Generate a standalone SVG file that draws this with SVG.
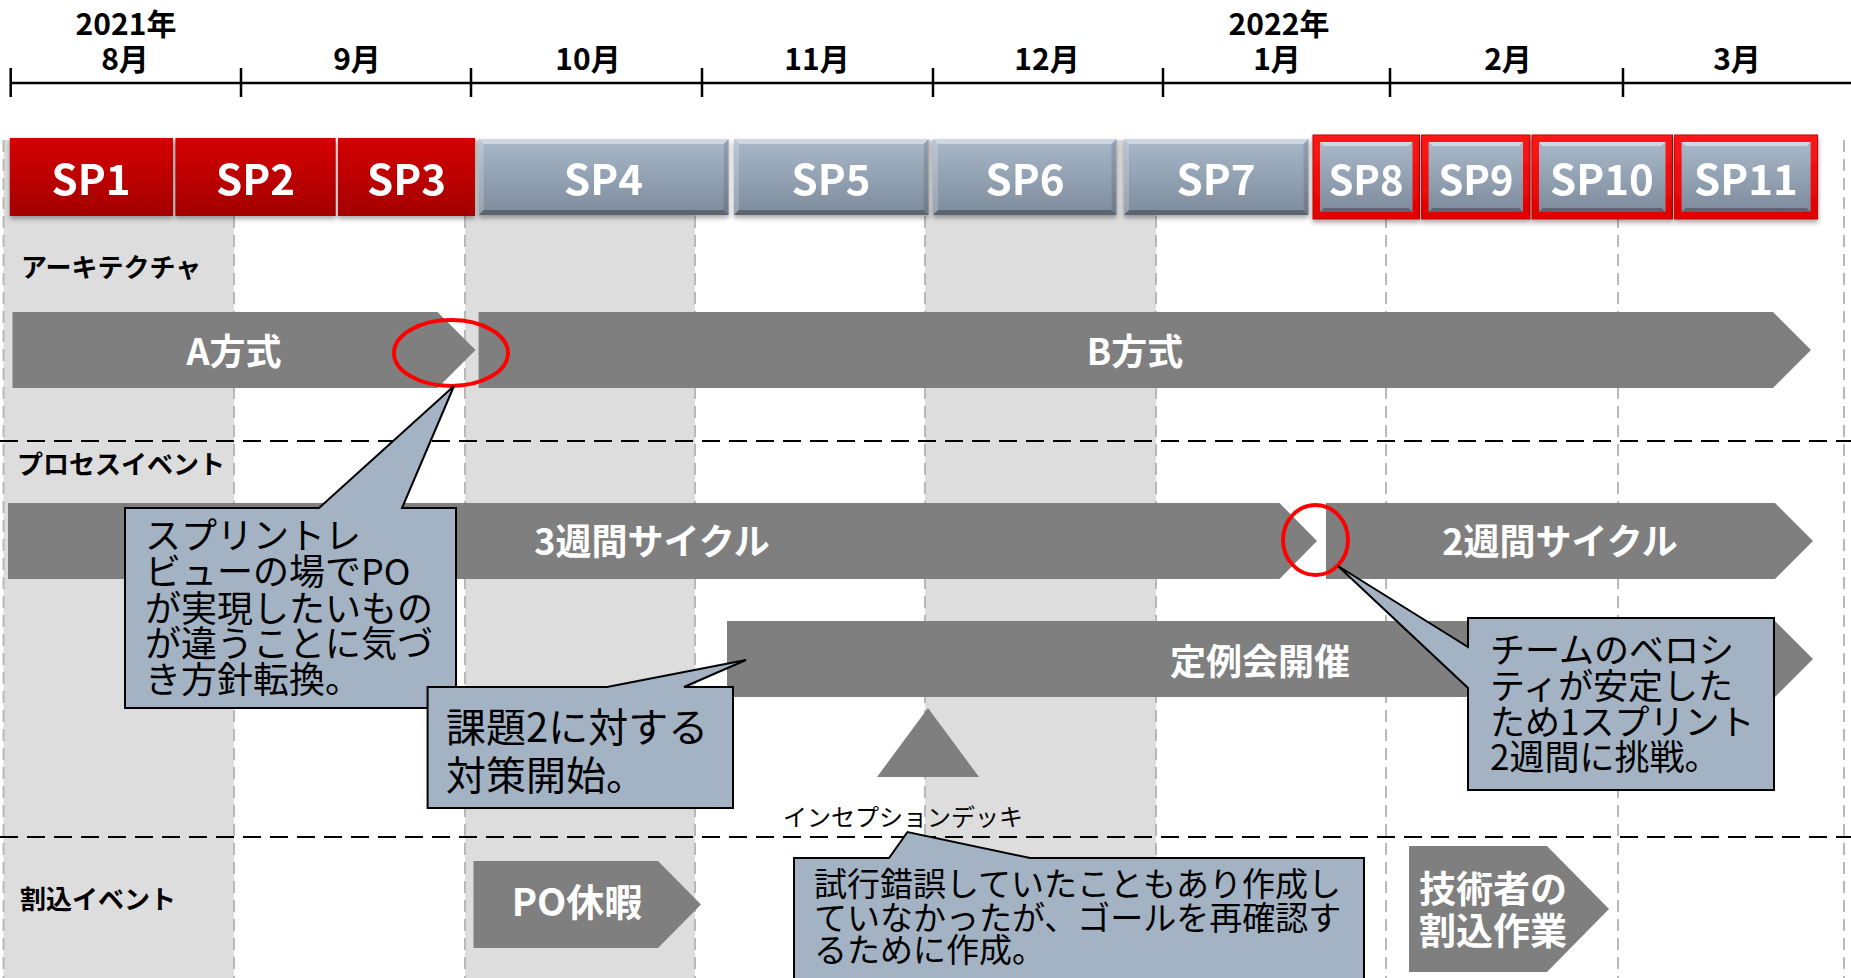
<svg xmlns="http://www.w3.org/2000/svg" width="1851" height="978" viewBox="0 0 1851 978">
<defs>
<linearGradient id="redG" x1="0" y1="0" x2="0" y2="1"><stop offset="0" stop-color="#d60000"/><stop offset="1" stop-color="#a30000"/></linearGradient>
<linearGradient id="blueG" x1="0" y1="0" x2="0" y2="1"><stop offset="0" stop-color="#a9b9ca"/><stop offset="1" stop-color="#7d8b9b"/></linearGradient>
<linearGradient id="brightRed" x1="0" y1="0" x2="0" y2="1"><stop offset="0" stop-color="#ff1a1a"/><stop offset="1" stop-color="#e00000"/></linearGradient>
<filter id="sh" x="-10%" y="-10%" width="120%" height="140%"><feDropShadow dx="0" dy="3" stdDeviation="2.5" flood-color="#000" flood-opacity="0.35"/></filter>
</defs>
<style>
text{font-family:"Noto Sans CJK JP","Noto Sans",sans-serif}
.hdr{font-size:30px;font-weight:bold;fill:#000;text-anchor:middle}
.sp{font-size:42px;font-weight:bold;fill:#fff;text-anchor:middle}
.sec{font-size:26px;font-weight:bold;fill:#000}
.arrow{fill:#7f7f7f}
.alab{font-size:36px;font-weight:bold;fill:#fff;text-anchor:middle}
.call{fill:#a3b3c4;stroke:#000;stroke-width:2;stroke-linejoin:miter}
.ct{fill:#000}
.vdash{stroke:#b8b8b8;stroke-width:2;stroke-dasharray:12 7}
.hdash{stroke:#000;stroke-width:2;stroke-dasharray:18 9}
.ring{fill:none;stroke:#f00;stroke-width:4}
.bt{fill:#fff;opacity:.45}
.bl{fill:#fff;opacity:.2}
.br{fill:#000;opacity:.12}
.bb{fill:#000;opacity:.28}
</style>

<g id="grid">
<rect x="3.5" y="140" width="230.5" height="838" fill="#dddddd"/>
<rect x="465" y="140" width="230" height="838" fill="#dddddd"/>
<rect x="925" y="140" width="231" height="838" fill="#dddddd"/>
<line class="vdash" x1="3.5" y1="140" x2="3.5" y2="978"/>
<line class="vdash" x1="234" y1="140" x2="234" y2="978"/>
<line class="vdash" x1="465" y1="140" x2="465" y2="978"/>
<line class="vdash" x1="695" y1="140" x2="695" y2="978"/>
<line class="vdash" x1="925" y1="140" x2="925" y2="978"/>
<line class="vdash" x1="1156" y1="140" x2="1156" y2="978"/>
<line class="vdash" x1="1386" y1="140" x2="1386" y2="978"/>
<line class="vdash" x1="1618" y1="140" x2="1618" y2="978"/>
<line class="vdash" x1="1844" y1="140" x2="1844" y2="978"/>
<line class="hdash" x1="0" y1="441" x2="1851" y2="441"/>
<line class="hdash" x1="0" y1="837" x2="1851" y2="837"/>
</g>

<g id="axis">
<line x1="10" y1="83" x2="1851" y2="83" stroke="#000" stroke-width="2.5"/>
<g stroke="#000" stroke-width="2.5">
<line x1="10.7" y1="68" x2="10.7" y2="97"/>
<line x1="241" y1="68" x2="241" y2="97"/>
<line x1="471" y1="68" x2="471" y2="97"/>
<line x1="702" y1="68" x2="702" y2="97"/>
<line x1="933" y1="68" x2="933" y2="97"/>
<line x1="1163" y1="68" x2="1163" y2="97"/>
<line x1="1390" y1="68" x2="1390" y2="97"/>
<line x1="1623" y1="68" x2="1623" y2="97"/>
</g>
<text class="hdr" x="126" y="35">2021年</text>
<text class="hdr" x="1279" y="35">2022年</text>
<text class="hdr" x="125" y="70">8月</text>
<text class="hdr" x="357" y="70">9月</text>
<text class="hdr" x="588" y="70">10月</text>
<text class="hdr" x="817" y="70">11月</text>
<text class="hdr" x="1047" y="70">12月</text>
<text class="hdr" x="1277" y="70">1月</text>
<text class="hdr" x="1508" y="70">2月</text>
<text class="hdr" x="1737" y="70">3月</text>
</g>

<g id="sprints">
<g id="sp1" filter="url(#sh)"><rect x="9.8" y="138" width="163.2" height="78" fill="url(#redG)"/><text class="sp" x="91" y="195">SP1</text></g>
<g id="sp2" filter="url(#sh)"><rect x="175.4" y="138" width="160.3" height="78" fill="url(#redG)"/><text class="sp" x="255.5" y="195">SP2</text></g>
<g id="sp3" filter="url(#sh)"><rect x="338" y="138" width="137" height="78" fill="url(#redG)"/><text class="sp" x="406.5" y="195">SP3</text></g>

<g id="sp4" filter="url(#sh)"><rect x="478.6" y="139" width="250" height="76" fill="url(#blueG)"/>
<polygon class="bt" points="478.6,139 728.6,139 723.6,144 483.6,144"/><polygon class="bl" points="478.6,139 483.6,144 483.6,210 478.6,215"/><polygon class="br" points="728.6,139 728.6,215 723.6,210 723.6,144"/><polygon class="bb" points="478.6,215 483.6,210 723.6,210 728.6,215"/>
<text class="sp" x="603.6" y="195">SP4</text></g>
<g id="sp5" filter="url(#sh)"><rect x="734" y="139" width="194.6" height="76" fill="url(#blueG)"/>
<polygon class="bt" points="734,139 928.6,139 923.6,144 739,144"/><polygon class="bl" points="734,139 739,144 739,210 734,215"/><polygon class="br" points="928.6,139 928.6,215 923.6,210 923.6,144"/><polygon class="bb" points="734,215 739,210 923.6,210 928.6,215"/>
<text class="sp" x="831" y="195">SP5</text></g>
<g id="sp6" filter="url(#sh)"><rect x="933" y="139" width="183.5" height="76" fill="url(#blueG)"/>
<polygon class="bt" points="933,139 1116.5,139 1111.5,144 938,144"/><polygon class="bl" points="933,139 938,144 938,210 933,215"/><polygon class="br" points="1116.5,139 1116.5,215 1111.5,210 1111.5,144"/><polygon class="bb" points="933,215 938,210 1111.5,210 1116.5,215"/>
<text class="sp" x="1025" y="195">SP6</text></g>
<g id="sp7" filter="url(#sh)"><rect x="1124" y="139" width="184.5" height="76" fill="url(#blueG)"/>
<polygon class="bt" points="1124,139 1308.5,139 1303.5,144 1129,144"/><polygon class="bl" points="1124,139 1129,144 1129,210 1124,215"/><polygon class="br" points="1308.5,139 1308.5,215 1303.5,210 1303.5,144"/><polygon class="bb" points="1124,215 1129,210 1303.5,210 1308.5,215"/>
<text class="sp" x="1216" y="195">SP7</text></g>

<g id="sp8" filter="url(#sh)"><rect x="1313" y="135" width="106.5" height="84" fill="url(#brightRed)" stroke="#c00000" stroke-width="1"/>
<rect x="1320" y="142" width="92.5" height="70" fill="url(#blueG)"/>
<polygon class="bt" points="1320,142 1412.5,142 1408.5,146 1324,146"/><polygon class="bb" points="1320,212 1324,208 1408.5,208 1412.5,212"/>
<text class="sp" x="1366" y="195" style="font-size:40px">SP8</text></g>
<g id="sp9" filter="url(#sh)"><rect x="1421.6" y="135" width="108.4" height="84" fill="url(#brightRed)" stroke="#c00000" stroke-width="1"/>
<rect x="1428.6" y="142" width="94.4" height="70" fill="url(#blueG)"/>
<polygon class="bt" points="1428.6,142 1523,142 1519,146 1432.6,146"/><polygon class="bb" points="1428.6,212 1432.6,208 1519,208 1523,212"/>
<text class="sp" x="1476" y="195" style="font-size:40px">SP9</text></g>
<g id="sp10" filter="url(#sh)"><rect x="1532" y="135" width="140.5" height="84" fill="url(#brightRed)" stroke="#c00000" stroke-width="1"/>
<rect x="1539" y="142" width="126.5" height="70" fill="url(#blueG)"/>
<polygon class="bt" points="1539,142 1665.5,142 1661.5,146 1543,146"/><polygon class="bb" points="1539,212 1543,208 1661.5,208 1665.5,212"/>
<text class="sp" x="1602" y="195">SP10</text></g>
<g id="sp11" filter="url(#sh)"><rect x="1674.6" y="135" width="143" height="84" fill="url(#brightRed)" stroke="#c00000" stroke-width="1"/>
<rect x="1681.6" y="142" width="129" height="70" fill="url(#blueG)"/>
<polygon class="bt" points="1681.6,142 1810.6,142 1806.6,146 1685.6,146"/><polygon class="bb" points="1681.6,212 1685.6,208 1806.6,208 1810.6,212"/>
<text class="sp" x="1746" y="195">SP11</text></g>
</g>

<g id="sections">
<text class="sec" x="21" y="277">アーキテクチャ</text>
<text class="sec" x="17" y="474">プロセスイベント</text>
<text class="sec" x="20" y="909">割込イベント</text>
</g>

<g id="arrows">
<g id="a-houshiki"><polygon class="arrow" points="12.5,312 437.5,312 475.5,350 437.5,388 12.5,388"/><text class="alab" x="234" y="365">A方式</text></g>
<g id="b-houshiki"><polygon class="arrow" points="478.6,312 1773,312 1811,350 1773,388 478.6,388"/><text class="alab" x="1135" y="365">B方式</text></g>
<g id="cycle3"><polygon class="arrow" points="8,503 1279.5,503 1317,541 1279.5,579 8,579"/><text class="alab" x="652" y="555">3週間サイクル</text></g>
<g id="cycle2"><polygon class="arrow" points="1326,503 1775,503 1813,541 1775,579 1326,579"/><text class="alab" x="1560" y="555">2週間サイクル</text></g>
<g id="teirei"><polygon class="arrow" points="727,621 1775,621 1813,659 1775,697 727,697"/><text class="alab" x="1260" y="675">定例会開催</text></g>
<g id="po"><polygon class="arrow" points="473.5,861 658,861 701,904.5 658,948 473.5,948"/><text class="alab" x="577" y="916" style="font-size:38px">PO休暇</text></g>
<g id="gijutsu"><polygon class="arrow" points="1409,846 1547,846 1609,909 1547,972 1409,972"/>
<text class="alab" x="1419" y="903" style="text-anchor:start;font-size:37px">技術者の</text>
<text class="alab" x="1419" y="945" style="text-anchor:start;font-size:37px">割込作業</text></g>
</g>

<g id="inception">
<polygon class="arrow" points="928,708 979,777 877,777"/>
<text x="783" y="826" style="font-size:24px;fill:#000">インセプションデッキ</text>
</g>

<g id="rings">
<ellipse class="ring" cx="451" cy="353" rx="57" ry="33"/>
<ellipse class="ring" cx="1315.5" cy="540" rx="32.5" ry="35"/>
</g>

<g id="callout1">
<polygon class="call" points="125,508 319,508 454,386 402,508 456,508 456,708 125,708"/>
<text class="ct" style="font-size:36px">
<tspan x="145" y="549">スプリントレ</tspan>
<tspan x="145" y="585">ビューの場でPO</tspan>
<tspan x="145" y="622">が実現したいもの</tspan>
<tspan x="145" y="657">が違うことに気づ</tspan>
<tspan x="145" y="693">き方針転換。</tspan>
</text>
</g>
<g id="callout2">
<polygon class="call" points="427.6,687 607,687 746,660 684,687 733,687 733,808 427.6,808"/>
<text class="ct" style="font-size:40px">
<tspan x="446" y="742">課題2に対する</tspan>
<tspan x="446" y="790">対策開始。</tspan>
</text>
</g>
<g id="callout3">
<polygon class="call" points="1468,618 1774,618 1774,790 1468,790 1468,688 1338,566 1468,647"/>
<text class="ct" style="font-size:35px">
<tspan x="1490" y="663">チームのベロシ</tspan>
<tspan x="1490" y="699">ティが安定した</tspan>
<tspan x="1490" y="735">ため1スプリント</tspan>
<tspan x="1490" y="770">2週間に挑戦。</tspan>
</text>
</g>
<g id="callout4">
<polygon class="call" points="794,858 889,858 907.5,832 1030,858 1364,858 1364,990 794,990"/>
<text class="ct" style="font-size:33px">
<tspan x="814" y="896">試行錯誤していたこともあり作成し</tspan>
<tspan x="814" y="930">ていなかったが、ゴールを再確認す</tspan>
<tspan x="814" y="962">るために作成。</tspan>
</text>
</g>
</svg>
